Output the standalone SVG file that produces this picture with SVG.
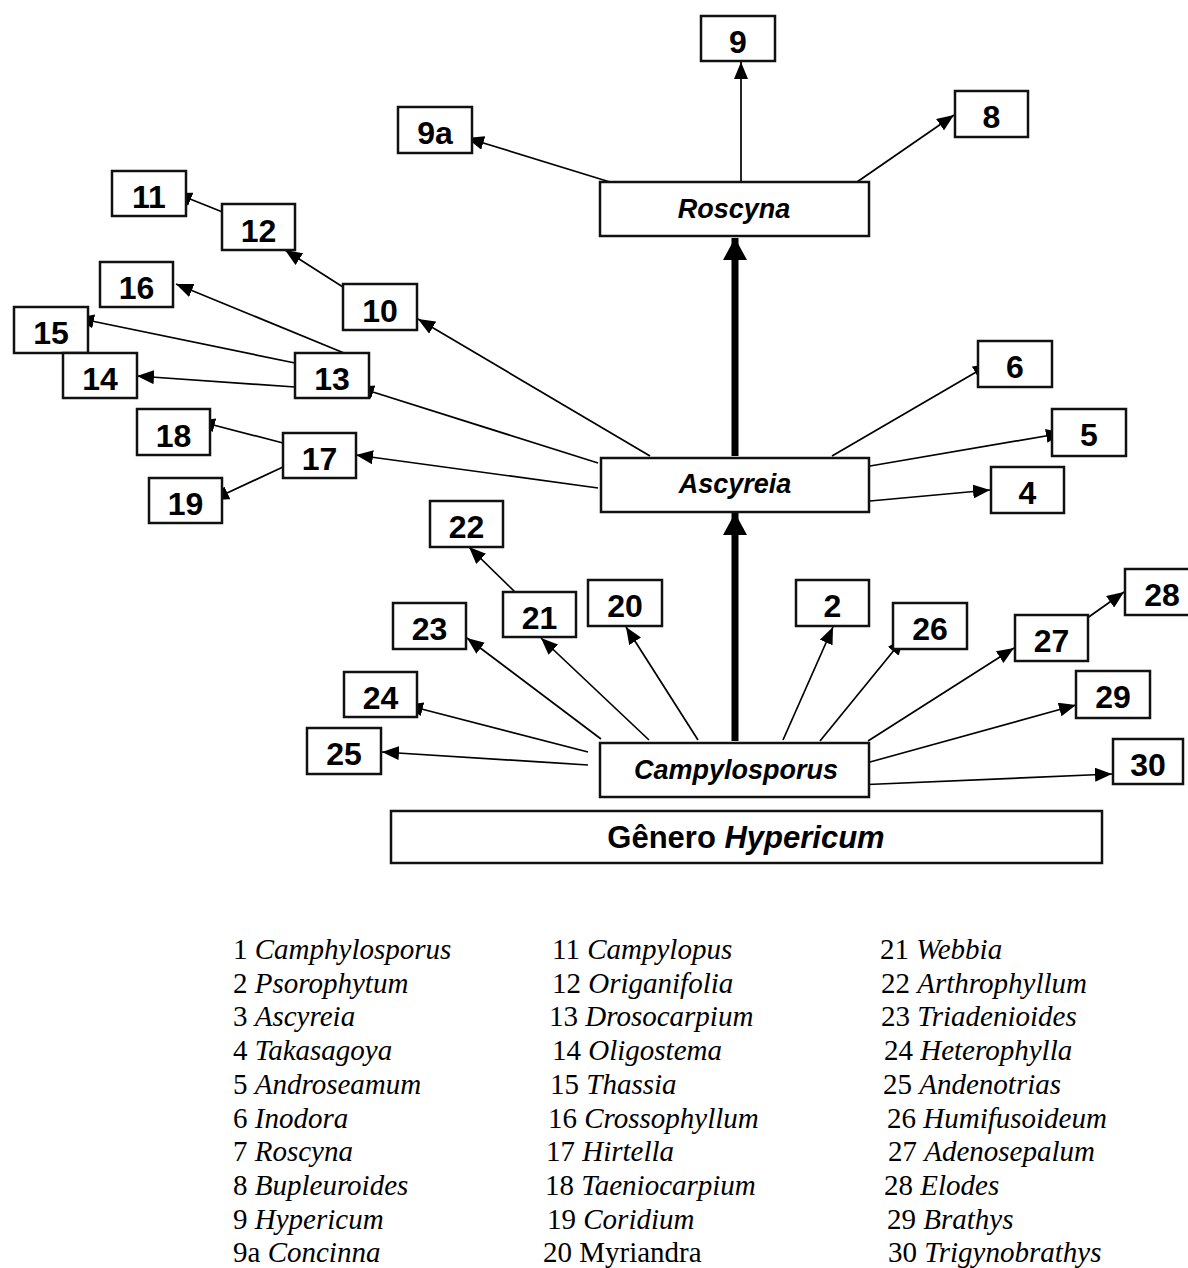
<svg xmlns="http://www.w3.org/2000/svg" width="1188" height="1268" viewBox="0 0 1188 1268">
<defs>
<marker id="ah" markerUnits="userSpaceOnUse" markerWidth="17" markerHeight="14" refX="17" refY="7" orient="auto"><path d="M0,0 L17,7 L0,14 z" fill="#000"/></marker>
<marker id="ahb" markerUnits="userSpaceOnUse" markerWidth="22" markerHeight="24" refX="22" refY="12" orient="auto"><path d="M0,0 L22,12 L0,24 z" fill="#000"/></marker>
</defs>
<style>
.box{fill:#fff;stroke:#111;stroke-width:2.5}
.num{font-family:"Liberation Sans",Arial,sans-serif;font-weight:bold;font-size:32px;text-anchor:middle;fill:#000}
.lab{font-family:"Liberation Sans",Arial,sans-serif;font-weight:bold;font-style:italic;font-size:27px;text-anchor:middle;fill:#000}
.gen{font-family:"Liberation Sans",Arial,sans-serif;font-weight:bold;font-size:31px;text-anchor:middle;fill:#000}
.c{stroke:#000;stroke-width:1.7;fill:none;marker-end:url(#ah)}
.t{stroke:#000;stroke-width:7;fill:none;marker-end:url(#ahb)}
.leg{font-family:"Liberation Serif","Times New Roman",serif;font-size:29px;fill:#000}
.i{font-style:italic}
</style>
<rect width="1188" height="1268" fill="#fff"/>
<g id="connectors">
<line class="t" x1="735" y1="456" x2="735" y2="238"/>
<line class="t" x1="735" y1="741" x2="735" y2="513"/>
<line class="c" x1="741" y1="182" x2="741" y2="62"/>
<line class="c" x1="610" y1="182" x2="467" y2="138"/>
<line class="c" x1="857" y1="182" x2="954" y2="115"/>
<line class="c" x1="650" y1="456" x2="418" y2="319"/>
<line class="c" x1="598" y1="463" x2="357" y2="387"/>
<line class="c" x1="598" y1="488" x2="356" y2="455"/>
<line class="c" x1="832" y1="456" x2="990" y2="364"/>
<line class="c" x1="870" y1="466" x2="1063" y2="433"/>
<line class="c" x1="870" y1="501" x2="990" y2="490"/>
<line class="c" x1="344" y1="353" x2="176" y2="284"/>
<line class="c" x1="295" y1="363" x2="77" y2="318"/>
<line class="c" x1="295" y1="387" x2="137" y2="376"/>
<line class="c" x1="283" y1="443" x2="198" y2="421"/>
<line class="c" x1="283" y1="467" x2="212" y2="500"/>
<line class="c" x1="357" y1="296" x2="285" y2="250"/>
<line class="c" x1="235" y1="217" x2="175" y2="193"/>
<line class="c" x1="601" y1="739" x2="467" y2="638"/>
<line class="c" x1="649" y1="740" x2="541" y2="638"/>
<line class="c" x1="698" y1="740" x2="626" y2="627"/>
<line class="c" x1="783" y1="740" x2="833" y2="627"/>
<line class="c" x1="820" y1="741" x2="904" y2="638"/>
<line class="c" x1="868" y1="741" x2="1014" y2="648"/>
<line class="c" x1="870" y1="762" x2="1076" y2="705"/>
<line class="c" x1="856" y1="785" x2="1112" y2="774"/>
<line class="c" x1="588" y1="752" x2="406" y2="705"/>
<line class="c" x1="588" y1="765" x2="382" y2="752"/>
<line class="c" x1="515" y1="592" x2="469" y2="547"/>
<line class="c" x1="1076" y1="626" x2="1124" y2="592"/>
</g>
<g id="roscyna"><rect class="box" x="600" y="182" width="269" height="54"/><text class="lab" x="734" y="218">Roscyna</text></g>
<g id="ascyreia"><rect class="box" x="601" y="458" width="268" height="54"/><text class="lab" x="735" y="493">Ascyreia</text></g>
<g id="campylosporus"><rect class="box" x="600" y="743" width="269" height="54"/><text class="lab" x="736" y="779">Campylosporus</text></g>
<g id="genero"><rect class="box" x="391" y="811" width="711" height="52"/><text class="gen" x="746" y="848">Gênero <tspan font-style="italic">Hypericum</tspan></text></g>
<g id="n9"><rect class="box" x="701" y="16" width="74" height="45"/><text class="num" x="738" y="53">9</text></g>
<g id="n9a"><rect class="box" x="398" y="107" width="74" height="46"/><text class="num" x="435" y="144">9a</text></g>
<g id="n8"><rect class="box" x="955" y="91" width="73" height="46"/><text class="num" x="991.5" y="128">8</text></g>
<g id="n11"><rect class="box" x="112" y="171" width="74" height="45"/><text class="num" x="149" y="208">11</text></g>
<g id="n12"><rect class="box" x="222" y="204" width="73" height="46"/><text class="num" x="258.5" y="242">12</text></g>
<g id="n10"><rect class="box" x="343" y="284" width="74" height="46"/><text class="num" x="380" y="322">10</text></g>
<g id="n16"><rect class="box" x="100" y="262" width="73" height="45"/><text class="num" x="136.5" y="299">16</text></g>
<g id="n15"><rect class="box" x="14" y="307" width="74" height="46"/><text class="num" x="51" y="344">15</text></g>
<g id="n14"><rect class="box" x="63" y="353" width="74" height="45"/><text class="num" x="100" y="390">14</text></g>
<g id="n13"><rect class="box" x="295" y="353" width="74" height="45"/><text class="num" x="332" y="390">13</text></g>
<g id="n18"><rect class="box" x="137" y="409" width="73" height="46"/><text class="num" x="173.5" y="447">18</text></g>
<g id="n17"><rect class="box" x="283" y="433" width="73" height="45"/><text class="num" x="319.5" y="470">17</text></g>
<g id="n19"><rect class="box" x="149" y="478" width="73" height="45"/><text class="num" x="185.5" y="515">19</text></g>
<g id="n22"><rect class="box" x="430" y="501" width="73" height="46"/><text class="num" x="466.5" y="538">22</text></g>
<g id="n23"><rect class="box" x="393" y="603" width="73" height="46"/><text class="num" x="429.5" y="640">23</text></g>
<g id="n21"><rect class="box" x="503" y="592" width="73" height="45"/><text class="num" x="539.5" y="629">21</text></g>
<g id="n20"><rect class="box" x="588" y="580" width="74" height="46"/><text class="num" x="625" y="617">20</text></g>
<g id="n2"><rect class="box" x="796" y="580" width="73" height="46"/><text class="num" x="832.5" y="617">2</text></g>
<g id="n24"><rect class="box" x="344" y="672" width="73" height="45"/><text class="num" x="380.5" y="709">24</text></g>
<g id="n25"><rect class="box" x="307" y="728" width="74" height="46"/><text class="num" x="344" y="765">25</text></g>
<g id="n6"><rect class="box" x="978" y="341" width="74" height="46"/><text class="num" x="1015" y="378">6</text></g>
<g id="n5"><rect class="box" x="1052" y="409" width="74" height="47"/><text class="num" x="1089" y="446">5</text></g>
<g id="n4"><rect class="box" x="991" y="467" width="73" height="46"/><text class="num" x="1027.5" y="504">4</text></g>
<g id="n26"><rect class="box" x="893" y="603" width="74" height="46"/><text class="num" x="930" y="640">26</text></g>
<g id="n27"><rect class="box" x="1015" y="615" width="73" height="46"/><text class="num" x="1051.5" y="652">27</text></g>
<g id="n28"><rect class="box" x="1125" y="569" width="74" height="46"/><text class="num" x="1162" y="606">28</text></g>
<g id="n29"><rect class="box" x="1076" y="671" width="74" height="47"/><text class="num" x="1113" y="708">29</text></g>
<g id="n30"><rect class="box" x="1113" y="739" width="70" height="45"/><text class="num" x="1148" y="776">30</text></g>
<g id="legend" class="leg">
<text x="233" y="959">1 <tspan class="i">Camphylosporus</tspan></text>
<text x="233" y="993">2 <tspan class="i">Psorophytum</tspan></text>
<text x="233" y="1026">3 <tspan class="i">Ascyreia</tspan></text>
<text x="233" y="1060">4 <tspan class="i">Takasagoya</tspan></text>
<text x="233" y="1094">5 <tspan class="i">Androseamum</tspan></text>
<text x="233" y="1128">6 <tspan class="i">Inodora</tspan></text>
<text x="233" y="1161">7 <tspan class="i">Roscyna</tspan></text>
<text x="233" y="1195">8 <tspan class="i">Bupleuroides</tspan></text>
<text x="233" y="1229">9 <tspan class="i">Hypericum</tspan></text>
<text x="233" y="1262">9a <tspan class="i">Concinna</tspan></text>
<text x="552" y="959">11 <tspan class="i">Campylopus</tspan></text>
<text x="552" y="993">12 <tspan class="i">Origanifolia</tspan></text>
<text x="549" y="1026">13 <tspan class="i">Drosocarpium</tspan></text>
<text x="552" y="1060">14 <tspan class="i">Oligostema</tspan></text>
<text x="550" y="1094">15 <tspan class="i">Thassia</tspan></text>
<text x="548" y="1128">16 <tspan class="i">Crossophyllum</tspan></text>
<text x="546" y="1161">17 <tspan class="i">Hirtella</tspan></text>
<text x="545" y="1195">18 <tspan class="i">Taeniocarpium</tspan></text>
<text x="547" y="1229">19 <tspan class="i">Coridium</tspan></text>
<text x="543" y="1262">20 Myriandra</text>
<text x="880" y="959">21 <tspan class="i">Webbia</tspan></text>
<text x="881" y="993">22 <tspan class="i">Arthrophyllum</tspan></text>
<text x="881" y="1026">23 <tspan class="i">Triadenioides</tspan></text>
<text x="884" y="1060">24 <tspan class="i">Heterophylla</tspan></text>
<text x="883" y="1094">25 <tspan class="i">Andenotrias</tspan></text>
<text x="887" y="1128">26 <tspan class="i">Humifusoideum</tspan></text>
<text x="888" y="1161">27 <tspan class="i">Adenosepalum</tspan></text>
<text x="884" y="1195">28 <tspan class="i">Elodes</tspan></text>
<text x="887" y="1229">29 <tspan class="i">Brathys</tspan></text>
<text x="888" y="1262">30 <tspan class="i">Trigynobrathys</tspan></text>
</g>
</svg>
